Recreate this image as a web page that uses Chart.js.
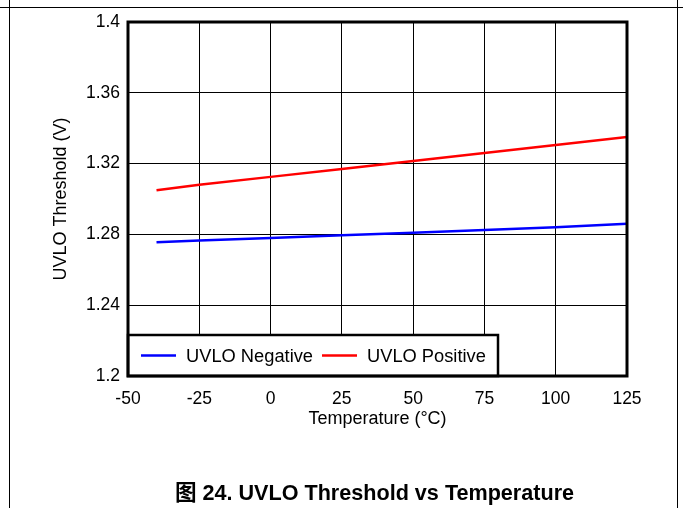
<!DOCTYPE html>
<html><head><meta charset="utf-8">
<script src="https://cdn.jsdelivr.net/npm/chart.js@4/dist/chart.umd.min.js"></script>
<style>
html,body{margin:0;padding:0;background:#fff;}
#wrap{position:relative;width:683px;height:508px;overflow:hidden;font-family:"Liberation Sans",Arial,sans-serif;}
#c{position:absolute;left:0;top:0;}
.hl{position:absolute;left:0;top:7px;width:683px;height:0;border-top:1.5px solid #000;}
.vl{position:absolute;top:0;height:508px;width:0;border-left:1.5px solid #000;}
#cap{position:absolute;left:0;width:749px;top:480px;text-align:center;font-weight:bold;font-size:21.6px;line-height:26px;color:#000;font-family:"Liberation Sans","Noto Sans CJK SC",sans-serif;white-space:nowrap;}
</style></head>
<body><div id="wrap">
<div class="hl"></div><div class="vl" style="left:9px"></div><div class="vl" style="left:677px"></div>
<canvas id="c" width="683" height="508"></canvas>
<div id="cap">图 24. UVLO Threshold vs Temperature</div>
</div>
<script>
const temps = [-40, -25, 0, 25, 50, 75, 100, 125];
const uvloNegative = [1.2755, 1.2765, 1.278, 1.2795, 1.281, 1.2825, 1.284, 1.286];
const uvloPositive = [1.305, 1.308, 1.3125, 1.317, 1.3215, 1.326, 1.3305, 1.335];
const xTicks = [-50, -25, 0, 25, 50, 75, 100, 125];
const yTicks = [1.2, 1.24, 1.28, 1.32, 1.36, 1.4];
const seriesNames = ['UVLO Negative', 'UVLO Positive'];
const seriesColors = ['#0000ff', '#ff0000'];

const FONT = '"Liberation Sans", Arial, sans-serif';

const frame = {
  id: 'frame',
  afterDatasetsDraw(chart) {
    const ctx = chart.ctx, a = chart.chartArea;
    const lx = a.left, ly = 335, lw = 370, lh = a.bottom - 335;
    ctx.save();
    ctx.fillStyle = '#fff';
    ctx.fillRect(lx, ly, lw, lh);
    ctx.strokeStyle = '#000'; ctx.lineWidth = 2.5;
    ctx.strokeRect(lx, ly, lw, lh);
    const items = [{x: 141, tx: 186}, {x: 322, tx: 367}];
    ctx.font = '18.3px ' + FONT; ctx.textBaseline = 'middle'; ctx.textAlign = 'left';
    items.forEach((it, i) => {
      ctx.strokeStyle = seriesColors[i]; ctx.lineWidth = 2.5;
      ctx.beginPath(); ctx.moveTo(it.x, 355.5); ctx.lineTo(it.x + 35, 355.5); ctx.stroke();
      ctx.fillStyle = '#000'; ctx.fillText(seriesNames[i], it.tx, 356.5);
    });
    ctx.strokeStyle = '#000'; ctx.lineWidth = 3;
    ctx.strokeRect(a.left, a.top, a.right - a.left, a.bottom - a.top);
    ctx.restore();
  }
};

new Chart(document.getElementById('c'), {
  type: 'line',
  data: {
    datasets: [
      {label: seriesNames[0], data: temps.map((t, i) => ({x: t, y: uvloNegative[i]})), borderColor: seriesColors[0], borderWidth: 2.5, pointRadius: 0, tension: 0},
      {label: seriesNames[1], data: temps.map((t, i) => ({x: t, y: uvloPositive[i]})), borderColor: seriesColors[1], borderWidth: 2.5, pointRadius: 0, tension: 0}
    ]
  },
  options: {
    responsive: false, animation: false, devicePixelRatio: 1,
    layout: {padding: {left: 46, top: 22, right: 56, bottom: 74}},
    plugins: {legend: {display: false}, tooltip: {enabled: false}},
    scales: {
      x: {
        type: 'linear', min: -50, max: 125,
        afterBuildTicks: s => { s.ticks = xTicks.map(v => ({value: v})); },
        afterFit: s => { s.height = 58; },
        grid: {color: '#000', lineWidth: 1, drawTicks: false},
        border: {display: false},
        ticks: {color: '#000', font: {size: 17.5, family: FONT}, padding: 13, maxRotation: 0, callback: v => String(v)},
        title: {display: true, text: 'Temperature (°C)', color: '#000', font: {size: 18, family: FONT}, padding: {top: 0, bottom: 4}}
      },
      y: {
        type: 'linear', min: 1.2, max: 1.4,
        afterBuildTicks: s => { s.ticks = yTicks.map(v => ({value: v})); },
        afterFit: s => { s.width = 82; },
        grid: {color: '#000', lineWidth: 1, drawTicks: false},
        border: {display: false},
        ticks: {color: '#000', font: {size: 17.5, family: FONT}, padding: 8, callback: v => String(+v.toFixed(2))},
        title: {display: true, text: 'UVLO Threshold (V)', color: '#000', font: {size: 18, family: FONT}, padding: {top: 4, bottom: 0}}
      }
    }
  },
  plugins: [frame]
});
</script>
</body></html>
